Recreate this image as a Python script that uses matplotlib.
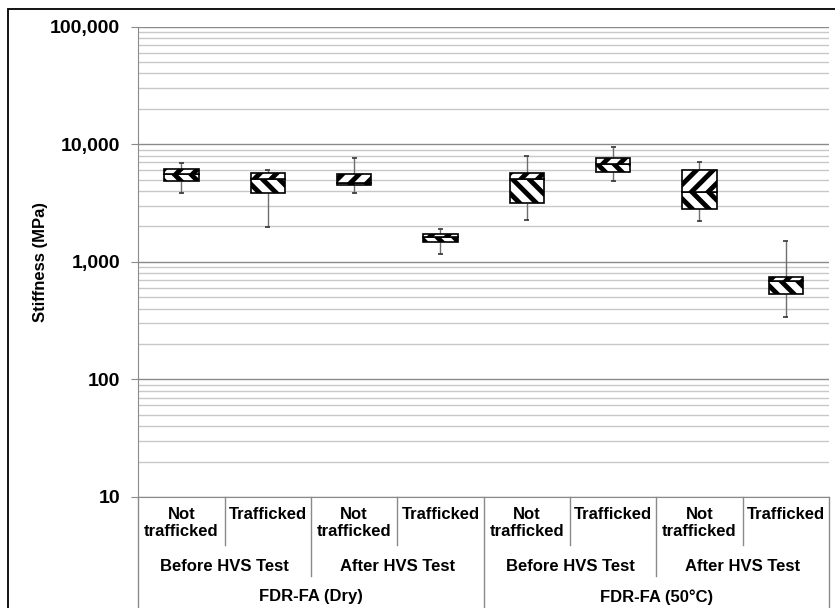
import matplotlib
matplotlib.use('Agg')
import matplotlib.pyplot as plt
import matplotlib.ticker as mticker
from matplotlib.patches import Rectangle

plt.rcParams['font.family'] = ['Liberation Sans', 'DejaVu Sans']
plt.rcParams['font.weight'] = 'bold'
plt.rcParams['hatch.linewidth'] = 3.5

# sub-categories, test stage, material
sub_labels = ['Not\ntrafficked', 'Trafficked'] * 4
stage_labels = ['Before HVS Test', 'After HVS Test', 'Before HVS Test', 'After HVS Test']
mix_labels = ['FDR-FA (Dry)', 'FDR-FA (50°C)']

# box statistics (MPa)
w_low = [3820, 1980, 3820, 1160, 2260, 4830, 2225, 337]
q1 = [4890, 3820, 4470, 1470, 3180, 5825, 2800, 532]
med = [5540, 5020, 4670, 1610, 5020, 6810, 3940, 690]
q3 = [6180, 5645, 5600, 1720, 5645, 7650, 6020, 741]
w_high = [6860, 6055, 7570, 1915, 7910, 9490, 7000, 1506]

fig = plt.figure(figsize=(8.35, 6.08), dpi=100)
ax = fig.add_axes([0.1656, 0.1826, 0.8272, 0.7738])

x = [i + 0.5 for i in range(len(med))]
bw = 0.40
lower = [m - a for m, a in zip(med, q1)]
upper = [b - m for b, m in zip(q3, med)]

ax.vlines(x, w_low, q1, color='#6e6e6e', lw=1, zorder=3)
ax.vlines(x, q3, w_high, color='#6e6e6e', lw=1, zorder=3)
ax.hlines(w_low, [v - 0.03 for v in x], [v + 0.03 for v in x], color='#333333', lw=1.2, zorder=3)
ax.hlines(w_high, [v - 0.03 for v in x], [v + 0.03 for v in x], color='#333333', lw=1.2, zorder=3)
ax.bar(x, lower, bottom=q1, width=bw, color='white', edgecolor='black',
       hatch='\\\\', lw=1.2, zorder=4)
ax.bar(x, upper, bottom=med, width=bw, color='white', edgecolor='black',
       hatch='//', lw=1.2, zorder=4)

ax.set_yscale('log')
ax.set_ylim(10, 100000)
ax.set_xlim(0, 8)
ax.yaxis.set_major_locator(mticker.LogLocator(base=10))
ax.yaxis.set_minor_locator(mticker.LogLocator(base=10, subs=range(2, 10)))
ax.yaxis.set_major_formatter(mticker.FuncFormatter(lambda v, _: f'{v:,.0f}'))
ax.yaxis.set_minor_formatter(mticker.NullFormatter())
ax.grid(True, which='major', axis='y', color='#8a8a8a', lw=1, zorder=0)
ax.grid(True, which='minor', axis='y', color='#c8c8c8', lw=1, zorder=0)
ax.tick_params(axis='y', which='major', length=5, color='#8a8a8a', pad=8, labelsize=14)
ax.tick_params(axis='y', which='minor', length=0)
ax.tick_params(axis='x', length=0, labelbottom=False)
for s in ['top', 'right']:
    ax.spines[s].set_visible(False)
ax.spines['left'].set_color('#8a8a8a')
ax.spines['bottom'].set_color('#8a8a8a')
ax.set_ylabel('Stiffness (MPa)', fontsize=12, fontweight='bold')
ax.yaxis.set_label_coords(-0.13, 0.5)

# multi-level category axis
tr = ax.get_xaxis_transform()
for k in range(9):
    if k % 4 == 0:
        y_end = -0.25
    elif k % 2 == 0:
        y_end = -0.168
    else:
        y_end = -0.102
    ax.plot([k, k], [0, y_end], color='#8a8a8a', lw=1, transform=tr, clip_on=False)
for i, lab in enumerate(sub_labels):
    ax.text(i + 0.5, -0.022, lab, transform=tr, ha='center', va='top',
            fontsize=12, fontweight='bold', linespacing=1.1)
for i, lab in enumerate(stage_labels):
    ax.text(2 * i + 1, -0.147, lab, transform=tr, ha='center', va='center',
            fontsize=12, fontweight='bold')
for i, lab in enumerate(mix_labels):
    ax.text(4 * i + 2, -0.212, lab, transform=tr, ha='center', va='center',
            fontsize=12, fontweight='bold')

fig.add_artist(Rectangle((8 / 835, -0.1), 1.2, 1 - 9 / 608 + 0.1, fill=False,
                         edgecolor='black', lw=1.3, transform=fig.transFigure))

fig.savefig('out.png', dpi=100)
